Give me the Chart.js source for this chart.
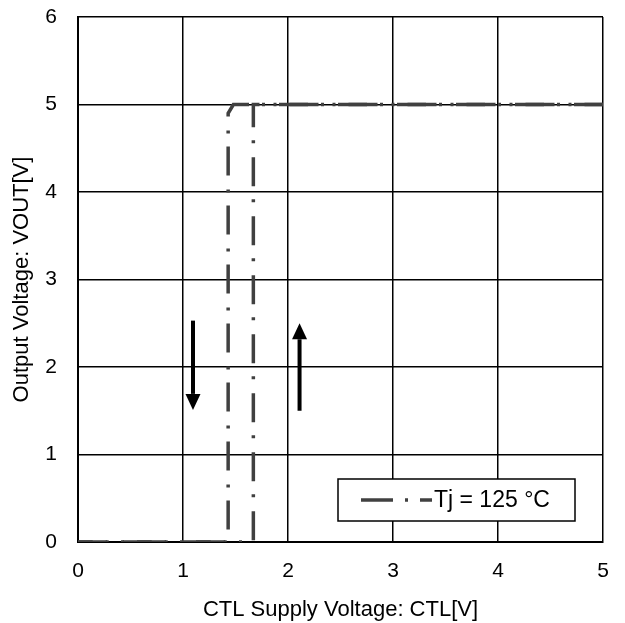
<!DOCTYPE html>
<html>
<head>
<meta charset="utf-8">
<script src="https://cdn.jsdelivr.net/npm/chart.js@4"></script>
<style>
  html, body { margin: 0; padding: 0; background: #fff; }
  #wrap { width: 625px; height: 623px; }
</style>
</head>
<body>
<div id="wrap"><canvas id="myChart" width="625" height="623"></canvas></div>
<script>
// rising sweep (CTL up) and falling sweep (CTL down), Tj = 125 °C
const riseX = [0, 1.67, 1.67, 5];
const riseY = [0, 0, 5, 5];
const fallX = [5, 1.48, 1.43, 1.43, 0];
const fallY = [5, 5, 4.9, 0, 0];
const xTicks = [0, 1, 2, 3, 4, 5];
const yTicks = [0, 1, 2, 3, 4, 5, 6];
// arrows: [x, yStart, yEnd]
const arrowDown = [1.095, 2.53, 1.51];
const arrowUp = [2.11, 1.5, 2.5];
const seriesLabel = 'Tj = 125 °C';

const toPts = (xs, ys) => xs.map((x, i) => ({ x: x, y: ys[i] }));
const lineColor = '#404040';
const dash = [29, 14, 3, 13];
const fontFam = '"Liberation Sans", Arial, sans-serif';

const arrowsPlugin = {
    id: 'arrows',
    afterDatasetsDraw(chart) {
        const c = chart.ctx, xs = chart.scales.x, ys = chart.scales.y;
        [arrowDown, arrowUp].forEach(a => {
            const x = xs.getPixelForValue(a[0]);
            const y0 = ys.getPixelForValue(a[1]);
            const y1 = ys.getPixelForValue(a[2]);
            const dir = y1 > y0 ? 1 : -1;
            const head = 16;
            c.save();
            c.strokeStyle = '#000';
            c.fillStyle = '#000';
            c.lineWidth = 4;
            c.beginPath();
            c.moveTo(x, y0);
            c.lineTo(x, y1 - dir * head);
            c.stroke();
            c.beginPath();
            c.moveTo(x, y1);
            c.lineTo(x - 7.5, y1 - dir * head);
            c.lineTo(x + 7.5, y1 - dir * head);
            c.closePath();
            c.fill();
            c.restore();
        });
    }
};

const legendPlugin = {
    id: 'boxLegend',
    afterDraw(chart) {
        const c = chart.ctx, a = chart.chartArea;
        const w = 237, h = 42;
        const x0 = a.right - 265, y0 = a.bottom - 63;
        c.save();
        c.fillStyle = '#fff';
        c.fillRect(x0, y0, w, h);
        c.strokeStyle = '#000';
        c.lineWidth = 1.5;
        c.strokeRect(x0, y0, w, h);
        const ly = y0 + h / 2;
        c.strokeStyle = lineColor;
        c.lineWidth = 3.5;
        c.setLineDash([32, 12, 3, 12]);
        c.beginPath();
        c.moveTo(x0 + 23, ly);
        c.lineTo(x0 + 94, ly);
        c.stroke();
        c.setLineDash([]);
        c.fillStyle = '#000';
        c.font = '23px ' + fontFam;
        c.textBaseline = 'middle';
        c.fillText(seriesLabel, x0 + 96, ly + 1);
        c.restore();
    }
};

const ctx = document.getElementById('myChart').getContext('2d');
const myChart = new Chart(ctx, {
    type: 'scatter',
    data: {
        datasets: [{
            label: seriesLabel,
            data: toPts(riseX, riseY),
            showLine: true,
            borderColor: lineColor,
            borderWidth: 3.5,
            borderDash: dash,
            pointRadius: 0,
            tension: 0
        }, {
            label: seriesLabel,
            data: toPts(fallX, fallY),
            showLine: true,
            borderColor: lineColor,
            borderWidth: 3.5,
            borderDash: dash,
            pointRadius: 0,
            tension: 0
        }]
    },
    options: {
        responsive: false,
        animation: false,
        layout: { padding: { top: 17, right: 22, left: 0, bottom: 0 } },
        plugins: {
            legend: { display: false },
            tooltip: { enabled: false }
        },
        scales: {
            x: {
                type: 'linear',
                min: 0,
                max: 5,
                afterBuildTicks: s => { s.ticks = xTicks.map(v => ({ value: v })); },
                afterFit: s => { s.height = 81; s.paddingRight = 0; s.paddingLeft = 0; },
                grid: { color: '#000', lineWidth: 1.5, drawTicks: false },
                border: { color: '#000', width: 2 },
                ticks: { color: '#000', padding: 17, font: { size: 21, family: fontFam } },
                title: {
                    display: true,
                    text: 'CTL Supply Voltage: CTL[V]',
                    color: '#000',
                    font: { size: 22, family: fontFam },
                    padding: { top: 3, bottom: 0 }
                }
            },
            y: {
                type: 'linear',
                min: 0,
                max: 6,
                afterBuildTicks: s => { s.ticks = yTicks.map(v => ({ value: v })); },
                afterFit: s => { s.width = 78; s.paddingTop = 0; s.paddingBottom = 0; },
                grid: { color: '#000', lineWidth: 1.5, drawTicks: false },
                border: { color: '#000', width: 2 },
                ticks: { color: '#000', padding: 21, font: { size: 21, family: fontFam } },
                title: {
                    display: true,
                    text: 'Output Voltage: VOUT[V]',
                    color: '#000',
                    font: { size: 22, family: fontFam },
                    padding: { top: 9, bottom: 0 }
                }
            }
        }
    },
    plugins: [arrowsPlugin, legendPlugin]
});
</script>
</body>
</html>
